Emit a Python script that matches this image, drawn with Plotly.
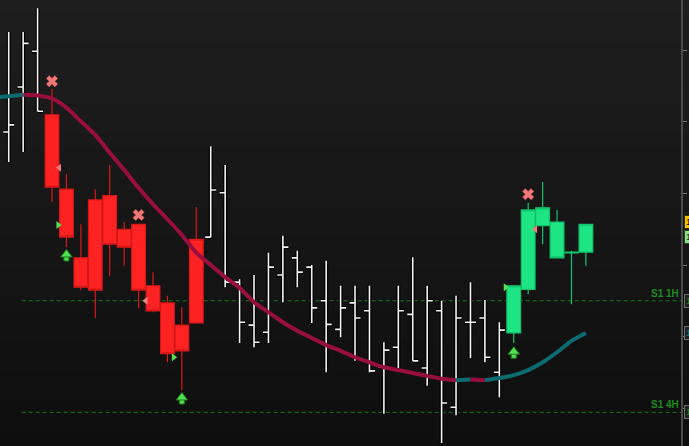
import plotly.graph_objects as go

# ---------------- data ----------------
# white OHLC bars (bar index, open, high, low, close)
white_idx = [-4, -3, -2, -1, 11, 12, 13, 14, 15, 16, 17, 18, 19, 20, 21, 22, 23, 24, 25, 26, 27, 28, 29, 30, 31]
white_open = [1.08417, 1.08386, 1.08449, 1.08499, 1.08239, 1.08301, 1.08176, 1.08116, 1.08106, 1.08186, 1.08210, 1.08197, 1.08150,
              1.08110, 1.08147, 1.08136, 1.08057, 1.08085, 1.08131, 1.08056, 1.08136, 1.08001, 1.08120, 1.08126, 1.08050]
white_high = [1.08543, 1.08526, 1.08526, 1.08559, 1.08366, 1.08340, 1.08180, 1.08186, 1.08217, 1.08241, 1.08220, 1.08200, 1.08206,
              1.08171, 1.08171, 1.08171, 1.08092, 1.08171, 1.08211, 1.08171, 1.08150, 1.08157, 1.08176, 1.08151, 1.08120]
white_low = [1.08361, 1.08344, 1.08358, 1.08415, 1.08239, 1.08169, 1.08091, 1.08085, 1.08091, 1.08148, 1.08169, 1.08119, 1.08050,
             1.08099, 1.08066, 1.08050, 1.07992, 1.08056, 1.08066, 1.08031, 1.07951, 1.07990, 1.08070, 1.08064, 1.08015]
white_close = [1.08384, 1.08396, 1.08510, 1.08415, 1.08305, 1.08176, 1.08120, 1.08092, 1.08197, 1.08225, 1.08190, 1.08140, 1.08117,
               1.08140, 1.08126, 1.08052, 1.08081, 1.08136, 1.08066, 1.08150, 1.08007, 1.08126, 1.08120, 1.08071, 1.08109]

# red candles
red_idx = [0, 1, 2, 3, 4, 5, 6, 7, 8, 9, 10]
red_open = [1.08410, 1.08306, 1.08210, 1.08291, 1.08297, 1.08250, 1.08257, 1.08171, 1.08147, 1.08116, 1.08119]
red_high = [1.08446, 1.08327, 1.08257, 1.08306, 1.08340, 1.08260, 1.08258, 1.08190, 1.08157, 1.08141, 1.08281]
red_low = [1.08288, 1.08225, 1.08165, 1.08126, 1.08185, 1.08199, 1.08140, 1.08134, 1.08064, 1.08025, 1.08118]
red_close = [1.08309, 1.08239, 1.08169, 1.08165, 1.08229, 1.08225, 1.08165, 1.08136, 1.08076, 1.08080, 1.08236]

# green candles
green_idx = [32, 33, 34, 35, 36, 37]
green_open = [1.08105, 1.08166, 1.08255, 1.08260, 1.08217, 1.08218]
green_high = [1.08172, 1.08287, 1.08316, 1.08277, 1.08220, 1.08257]
green_low = [1.08091, 1.08159, 1.08229, 1.08209, 1.08145, 1.08199]
green_close = [1.08171, 1.08277, 1.08280, 1.08210, 1.08218, 1.08257]

# moving average (bar -4 .. 37)
ma_idx = list(range(-4, 38))
ma_val = [1.08434, 1.08436, 1.08438, 1.08437, 1.08433, 1.08420, 1.08401, 1.08382, 1.08357, 1.08333, 1.08308, 1.08285,
          1.08264, 1.08242, 1.08217, 1.08200, 1.08183, 1.08168, 1.08148, 1.08134, 1.08120, 1.08108, 1.08098, 1.08088,
          1.08080, 1.08071, 1.08064, 1.08057, 1.08053, 1.08049, 1.08045, 1.08041, 1.08039, 1.08040, 1.08039, 1.08042,
          1.08046, 1.08053, 1.08064, 1.08078, 1.08094, 1.08105]

# signals
x_sig_idx = [0, 6, 33]
x_sig_price = [1.08457, 1.08270, 1.08299]
up_sig_idx = [1, 9, 32]
up_sig_price = [1.08221, 1.08021, 1.08085]          # arrow tip
pink_tri_idx = [1, 7, 34]
pink_tri_price = [1.08336, 1.08150, 1.08250]
green_tri_idx = [1, 9, 32]
green_tri_price = [1.08256, 1.08071, 1.08169]

# levels
levels = [("S1 1H", 1.08150), ("S1 4H", 1.07994)]
level_start_idx = -2.1

# axis
y_ticks = [1.0800, 1.0810, 1.0820, 1.0830, 1.0840, 1.0850]
y_range = [1.079469, 1.085706]
x_range = [-3.604, 43.59]

# right edge price tags (price, text, bg, fg, border)
tags = [(1.08260, "1.08260", "#f2c200", "#000000", "#3a3000"),
        (1.08239, "1.08239", "#8fdc8f", "#103010", "#2a4a2a"),
        (1.08150, "1.08150", "#202020", "#1e8c1e", "#6a6a6a"),
        (1.08105, "1.08105", "#202020", "#0c8080", "#6a6a6a"),
        (1.07994, "1.07994", "#202020", "#1e8c1e", "#6a6a6a")]

# ---------------- figure ----------------
W, H = 689, 446
ML, MR, MT, MB = 0, 8, 0, 0
plot_h = H - MT - MB
price_per_px = (y_range[1] - y_range[0]) / plot_h

fig = go.Figure()

# gradient background bands
nb = 30
for k in range(nb):
    t = k / (nb - 1)
    c = int(round(0x1e + (0x0e - 0x1e) * t))
    fig.add_shape(type="rect", xref="paper", yref="paper", x0=0, x1=1.02,
                  y0=1 - (k + 1) / nb, y1=1 - k / nb + 0.001,
                  fillcolor=f"rgb({c},{c},{c})", line_width=0, layer="below")

# support levels
for name, lv in levels:
    fig.add_shape(type="line", xref="x", yref="y", x0=level_start_idx, x1=x_range[1],
                  y0=lv, y1=lv, line=dict(color="#177a17", width=1, dash="4px,3px"), layer="below")
    fig.add_annotation(xref="paper", yref="y", x=1, y=lv, text=f"<b>{name}</b>", showarrow=False,
                       xanchor="right", yanchor="bottom", yshift=0,
                       font=dict(family="Liberation Sans, Arial", size=10, color="#1e8c1e"))

# white OHLC bars with dark outline
for col, w in (("#000000", 4), ("#f2f2f2", 1.6)):
    fig.add_trace(go.Ohlc(x=white_idx, open=white_open, high=white_high, low=white_low, close=white_close,
                          increasing=dict(line=dict(color=col, width=w)),
                          decreasing=dict(line=dict(color=col, width=w)),
                          tickwidth=0.38, hoverinfo="skip", showlegend=False))

# red candles
fig.add_trace(go.Candlestick(x=red_idx, open=red_open, high=red_high, low=red_low, close=red_close,
                             increasing=dict(line=dict(color="#d81818", width=1.2), fillcolor="#ff2222"),
                             decreasing=dict(line=dict(color="#d81818", width=1.2), fillcolor="#ff2222"),
                             whiskerwidth=0, hoverinfo="skip", showlegend=False))
# green candles
fig.add_trace(go.Candlestick(x=green_idx, open=green_open, high=green_high, low=green_low, close=green_close,
                             increasing=dict(line=dict(color="#12c46c", width=1.2), fillcolor="#1ee584"),
                             decreasing=dict(line=dict(color="#12c46c", width=1.2), fillcolor="#1ee584"),
                             whiskerwidth=0, hoverinfo="skip", showlegend=False))

# moving average, coloured by slope
TEAL, MAROON = "#0c6b6e", "#980f3e"
seg_cols = [TEAL if ma_val[i + 1] >= ma_val[i] else MAROON for i in range(len(ma_val) - 1)]
start = 0
for i in range(1, len(seg_cols) + 1):
    if i == len(seg_cols) or seg_cols[i] != seg_cols[start]:
        xs = ma_idx[start:i + 1]
        ys = ma_val[start:i + 1]
        fig.add_trace(go.Scatter(x=xs, y=ys, mode="lines", line=dict(color=seg_cols[start], width=4, shape="spline", smoothing=0.6),
                                 hoverinfo="skip", showlegend=False))
        start = i

# X signals
fig.add_trace(go.Scatter(x=x_sig_idx, y=x_sig_price, mode="markers",
                         marker=dict(symbol="x", size=10, color="#f27878", line=dict(color="#c85858", width=0.5)),
                         hoverinfo="skip", showlegend=False))

# up arrows: head + stem, offsets in pixels via axis scale
head_y = [p - 4.5 * price_per_px for p in up_sig_price]
stem_y = [p - 8.5 * price_per_px for p in up_sig_price]
fig.add_trace(go.Scatter(x=up_sig_idx, y=stem_y, mode="markers",
                         marker=dict(symbol="square", size=5, color="#52e052", line=dict(color="#1f7a1f", width=1)),
                         hoverinfo="skip", showlegend=False))
fig.add_trace(go.Scatter(x=up_sig_idx, y=head_y, mode="markers",
                         marker=dict(symbol="triangle-up", size=10, color="#52e052", line=dict(color="#1f7a1f", width=1)),
                         hoverinfo="skip", showlegend=False))

# small triangles
fig.add_trace(go.Scatter(x=[i - 0.5 for i in pink_tri_idx], y=pink_tri_price, mode="markers",
                         marker=dict(symbol="triangle-left", size=7, color="#f07c7c", line_width=0),
                         hoverinfo="skip", showlegend=False))
fig.add_trace(go.Scatter(x=[i - 0.57 for i in green_tri_idx], y=green_tri_price, mode="markers",
                         marker=dict(symbol="triangle-right", size=7, color="#55dd55", line_width=0),
                         hoverinfo="skip", showlegend=False))

# price tags at right edge (partly outside window)
for p, txt, bg, fg, bd in tags:
    fig.add_annotation(xref="paper", yref="y", x=1 + 3 / (W - ML - MR), y=p, text=txt, showarrow=False,
                       xanchor="left", yanchor="middle", bgcolor=bg, bordercolor=bd, borderwidth=1, borderpad=1,
                       font=dict(family="Liberation Sans, Arial", size=9, color=fg))

fig.update_layout(
    width=W, height=H, margin=dict(l=ML, r=MR, t=MT, b=MB),
    paper_bgcolor="#151515", plot_bgcolor="rgba(0,0,0,0)",
    boxgap=0.05, boxgroupgap=0, showlegend=False, hovermode=False,
    xaxis=dict(range=x_range, visible=False, rangeslider=dict(visible=False), fixedrange=True),
    yaxis=dict(range=y_range, side="right", showgrid=False, zeroline=False,
               showline=True, linecolor="#4a4a4a", linewidth=2,
               ticks="outside", ticklen=4, tickcolor="#777777", tickwidth=1,
               tickvals=y_ticks, ticktext=[f"{v:.4f}" for v in y_ticks],
               tickfont=dict(family="Liberation Sans, Arial", size=11, color="#cccccc"),
               automargin=False, fixedrange=True),
)

fig.write_html("out.html", config={"displayModeBar": False},
               post_script="document.body.style.margin='0';document.body.style.overflow='hidden';")
